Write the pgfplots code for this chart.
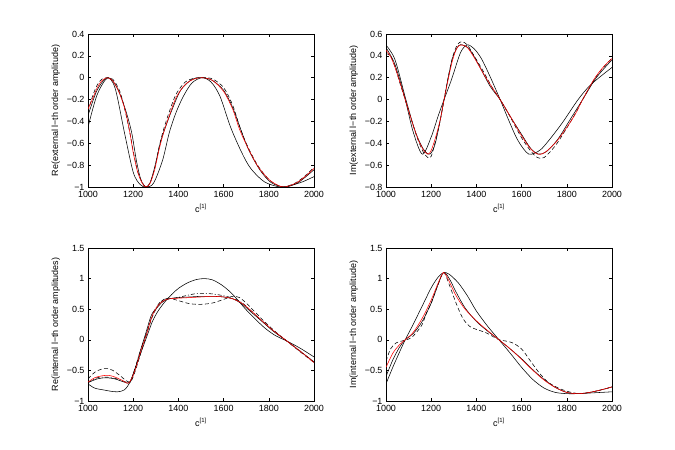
\documentclass[border=0pt]{standalone}
\usepackage{fontspec}
\setmainfont{Liberation Sans}
\usepackage{pgfplots}
\pgfplotsset{compat=1.18}
\definecolor{mred}{rgb}{1,0,0}
\pgfplotsset{
  panel/.style={
    scale only axis, width=226bp, height=153bp,
    xmin=1000, xmax=2000,
    xtick={1000,1200,1400,1600,1800,2000},
    xticklabels={1000,1200,1400,1600,1800,2000},
    tick align=inside,
    major tick length=3bp,
    axis line style={line width=0.5bp, black},
    every tick/.style={black, line width=0.5bp},
    tick label style={font=\fontsize{9}{10}\selectfont},
    xticklabel style={yshift=-0.5bp},
    label style={font=\fontsize{9}{10}\selectfont},
    xlabel={c\textsuperscript{[1]}},
    anchor=south west,
  },
  sol/.style={black, line width=0.55bp, smooth, mark=none},
  rd/.style={mred, line width=0.55bp, smooth, mark=none},
  dsh/.style={black, line width=0.55bp, smooth, mark=none, dash pattern=on 4bp off 2.5bp},
  dsd/.style={black, line width=0.55bp, smooth, mark=none, dash pattern=on 4bp off 2bp on 1bp off 2bp},
}
\begin{document}
\begin{tikzpicture}
\path[use as bounding box] (0bp,0bp) rectangle (675bp,450bp);

% ---------- top left: Re external
\begin{axis}[panel, at={(88bp,263bp)},
  ymin=-1, ymax=0.4,
  ytick={-1,-0.8,-0.6,-0.4,-0.2,0,0.2,0.4},
  yticklabels={−1,−0.8,−0.6,−0.4,−0.2,0,0.2,0.4},
  ylabel={Re(external l−th order amplitude)}]
\addplot[sol] coordinates {(1000,-0.346)(1040,-0.115)(1085,0)(1120,-0.096)(1161,-0.5)(1200,-0.864)(1230,-0.976)(1257,-1)(1290,-0.965)(1330,-0.755)(1360,-0.5)(1390,-0.316)(1422,-0.170)(1460,-0.048)(1505,0)(1545,-0.041)(1584,-0.170)(1631,-0.453)(1680,-0.684)(1720,-0.830)(1780,-0.952)(1850,-1)(1900,-0.984)(1950,-0.952)(2000,-0.905)};
\addplot[sol] coordinates {(1000,-0.453)(1040,-0.158)(1088,0)(1130,-0.096)(1165,-0.287)(1193,-0.5)(1215,-0.768)(1235,-0.938)(1257,-1)(1275,-0.959)(1295,-0.819)(1320,-0.594)(1340,-0.469)(1370,-0.302)(1410,-0.115)(1460,-0.016)(1505,0)(1550,-0.024)(1600,-0.115)(1640,-0.273)(1675,-0.469)(1710,-0.655)(1760,-0.842)(1810,-0.959)(1870,-1)(1930,-0.959)(2000,-0.842)};
\addplot[dsh] coordinates {(1000,-0.31)(1020,-0.17)(1040,-0.07)(1060,-0.015)(1085,0)(1110,-0.015)(1140,-0.12)(1165,-0.31)(1185,-0.5)(1200,-0.67)(1220,-0.86)(1240,-0.96)(1257,-1)(1275,-0.96)(1295,-0.83)(1315,-0.63)(1335,-0.47)(1360,-0.31)(1390,-0.15)(1430,-0.04)(1470,-0.005)(1505,0)(1550,-0.01)(1600,-0.09)(1640,-0.25)(1670,-0.44)(1700,-0.6)(1750,-0.8)(1800,-0.93)(1840,-0.985)(1870,-1)(1920,-0.96)(1960,-0.9)(2000,-0.82)};
\addplot[rd] coordinates {(1000,-0.287)(1020,-0.194)(1040,-0.096)(1060,-0.030)(1085,0)(1110,-0.030)(1140,-0.146)(1165,-0.302)(1185,-0.5)(1200,-0.684)(1220,-0.864)(1240,-0.965)(1257,-1)(1275,-0.965)(1295,-0.842)(1315,-0.654)(1335,-0.5)(1360,-0.346)(1390,-0.181)(1430,-0.062)(1470,-0.012)(1505,0)(1550,-0.024)(1600,-0.125)(1640,-0.287)(1670,-0.469)(1700,-0.609)(1750,-0.806)(1800,-0.930)(1840,-0.984)(1870,-1)(1920,-0.965)(1960,-0.905)(2000,-0.830)};
\end{axis}

% ---------- top right: Im external
\begin{axis}[panel, at={(386bp,263bp)},
  ymin=-0.8, ymax=0.6,
  ytick={-0.8,-0.6,-0.4,-0.2,0,0.2,0.4,0.6},
  yticklabels={−0.8,−0.6,−0.4,−0.2,0,0.2,0.4,0.6},
  ylabel={Im(external l−th order amplitude)}]
\addplot[sol] coordinates {(1000,0.476)(1040,0.319)(1085,0)(1120,-0.294)(1161,-0.5)(1200,-0.342)(1230,-0.155)(1257,0)(1290,0.184)(1330,0.431)(1360,0.5)(1390,0.465)(1422,0.375)(1460,0.213)(1505,0)(1545,-0.199)(1584,-0.375)(1631,-0.498)(1680,-0.465)(1720,-0.375)(1780,-0.213)(1850,0)(1900,0.124)(1950,0.213)(2000,0.294)};
\addplot[sol] coordinates {(1000,0.498)(1040,0.364)(1088,0)(1130,-0.294)(1165,-0.452)(1193,-0.5)(1215,-0.422)(1235,-0.241)(1257,0)(1275,0.199)(1295,0.385)(1320,0.491)(1340,0.499)(1370,0.459)(1410,0.319)(1460,0.124)(1505,0)(1550,-0.155)(1600,-0.319)(1640,-0.446)(1675,-0.499)(1710,-0.476)(1760,-0.364)(1810,-0.199)(1870,0)(1930,0.199)(2000,0.364)};
\addplot[dsh] coordinates {(1000,0.42)(1020,0.40)(1040,0.30)(1060,0.16)(1085,0)(1110,-0.17)(1140,-0.36)(1165,-0.48)(1185,-0.53)(1200,-0.52)(1220,-0.37)(1240,-0.19)(1257,0)(1275,0.2)(1295,0.39)(1315,0.5)(1335,0.53)(1360,0.5)(1390,0.40)(1430,0.26)(1470,0.11)(1505,0)(1550,-0.16)(1600,-0.35)(1640,-0.47)(1670,-0.53)(1700,-0.53)(1750,-0.42)(1800,-0.26)(1840,-0.12)(1870,0)(1920,0.18)(1960,0.29)(2000,0.38)};
\addplot[rd] coordinates {(1000,0.452)(1020,0.395)(1040,0.294)(1060,0.169)(1085,0)(1110,-0.169)(1140,-0.354)(1165,-0.459)(1185,-0.5)(1200,-0.465)(1220,-0.342)(1240,-0.184)(1257,0)(1275,0.184)(1295,0.364)(1315,0.476)(1335,0.5)(1360,0.476)(1390,0.385)(1430,0.241)(1470,0.109)(1505,0)(1550,-0.155)(1600,-0.331)(1640,-0.452)(1670,-0.499)(1700,-0.488)(1750,-0.395)(1800,-0.255)(1840,-0.124)(1870,0)(1920,0.184)(1960,0.294)(2000,0.375)};
\end{axis}

% ---------- bottom left: Re internal
\begin{axis}[panel, at={(88bp,49bp)},
  ymin=-1, ymax=1.5,
  ytick={-1,-0.5,0,0.5,1,1.5},
  yticklabels={−1,−0.5,0,0.5,1,1.5},
  ylabel={Re(internal l−th order amplitudes)}]
\addplot[sol] coordinates {(1000,-0.72)(1030,-0.79)(1070,-0.82)(1100,-0.84)(1130,-0.85)(1160,-0.82)(1185,-0.7)(1210,-0.45)(1235,-0.2)(1260,0.05)(1285,0.3)(1310,0.47)(1340,0.62)(1370,0.74)(1400,0.84)(1440,0.93)(1480,0.985)(1515,1.0)(1550,0.98)(1590,0.9)(1630,0.78)(1660,0.66)(1700,0.49)(1740,0.34)(1780,0.2)(1820,0.09)(1850,0.03)(1880,-0.02)(1940,-0.14)(2000,-0.28)};
\addplot[sol] coordinates {(1000,-0.7)(1040,-0.64)(1080,-0.62)(1120,-0.64)(1160,-0.69)(1185,-0.7)(1205,-0.52)(1230,-0.2)(1255,0.1)(1280,0.4)(1300,0.5)(1330,0.62)(1360,0.67)(1400,0.69)(1450,0.7)(1500,0.71)(1550,0.71)(1600,0.7)(1640,0.67)(1680,0.59)(1720,0.46)(1770,0.3)(1820,0.14)(1880,-0.02)(1940,-0.19)(2000,-0.36)};
\addplot[dsh] coordinates {(1000,-0.64)(1030,-0.53)(1060,-0.48)(1085,-0.47)(1110,-0.5)(1140,-0.58)(1170,-0.67)(1190,-0.68)(1210,-0.5)(1235,-0.2)(1260,0.1)(1285,0.38)(1310,0.56)(1335,0.66)(1360,0.68)(1400,0.64)(1450,0.59)(1500,0.58)(1550,0.6)(1600,0.66)(1640,0.71)(1670,0.69)(1700,0.6)(1740,0.45)(1780,0.3)(1830,0.13)(1880,-0.02)(1940,-0.2)(2000,-0.37)};
\addplot[dsd] coordinates {(1000,-0.7)(1040,-0.62)(1080,-0.61)(1120,-0.63)(1160,-0.68)(1185,-0.69)(1205,-0.5)(1230,-0.2)(1260,0.12)(1290,0.45)(1320,0.62)(1345,0.67)(1380,0.68)(1420,0.71)(1470,0.75)(1510,0.76)(1550,0.75)(1600,0.72)(1640,0.68)(1680,0.61)(1720,0.48)(1770,0.31)(1820,0.15)(1880,-0.02)(1940,-0.19)(2000,-0.37)};
\addplot[rd] coordinates {(1000,-0.69)(1030,-0.62)(1060,-0.59)(1090,-0.58)(1120,-0.61)(1150,-0.66)(1178,-0.71)(1195,-0.62)(1215,-0.42)(1235,-0.17)(1260,0.1)(1285,0.4)(1310,0.56)(1335,0.64)(1360,0.67)(1400,0.68)(1450,0.69)(1500,0.7)(1550,0.71)(1600,0.7)(1640,0.67)(1680,0.6)(1720,0.48)(1770,0.31)(1820,0.15)(1880,-0.02)(1940,-0.19)(2000,-0.37)};
\end{axis}

% ---------- bottom right: Im internal
\begin{axis}[panel, at={(386bp,49bp)},
  ymin=-1, ymax=1.5,
  ytick={-1,-0.5,0,0.5,1,1.5},
  yticklabels={−1,−0.5,0,0.5,1,1.5},
  ylabel={Im(internal l−th order amplitude)}]
\addplot[sol] coordinates {(1000,-0.72)(1030,-0.45)(1060,-0.2)(1085,0)(1120,0.25)(1160,0.55)(1200,0.85)(1230,1.02)(1255,1.1)(1280,1.07)(1320,0.93)(1360,0.72)(1400,0.47)(1450,0.22)(1500,0)(1550,-0.22)(1600,-0.45)(1650,-0.65)(1700,-0.79)(1750,-0.86)(1800,-0.88)(1850,-0.88)(1900,-0.87)(1950,-0.86)(2000,-0.85)};
\addplot[sol] coordinates {(1000,-0.6)(1030,-0.33)(1060,-0.12)(1085,0)(1120,0.1)(1160,0.3)(1200,0.6)(1230,0.9)(1255,1.1)(1280,1.0)(1310,0.78)(1350,0.52)(1400,0.3)(1450,0.14)(1500,0)(1550,-0.15)(1600,-0.31)(1650,-0.49)(1700,-0.65)(1750,-0.78)(1800,-0.86)(1850,-0.88)(1900,-0.86)(1950,-0.82)(2000,-0.77)};
\addplot[dsh] coordinates {(1000,-0.35)(1020,-0.15)(1045,-0.05)(1070,-0.02)(1090,0)(1110,0.03)(1130,0.1)(1160,0.25)(1180,0.45)(1200,0.6)(1230,0.9)(1255,1.1)(1280,0.9)(1310,0.6)(1340,0.35)(1370,0.22)(1400,0.17)(1440,0.12)(1470,0.06)(1500,0)(1530,-0.02)(1560,-0.05)(1600,-0.15)(1640,-0.35)(1680,-0.55)(1720,-0.7)(1770,-0.8)(1820,-0.86)(1860,-0.88)(1900,-0.86)(1950,-0.82)(2000,-0.77)};
\addplot[rd] coordinates {(1000,-0.45)(1030,-0.22)(1060,-0.08)(1085,0)(1120,0.12)(1160,0.35)(1200,0.65)(1230,0.92)(1255,1.1)(1280,0.95)(1310,0.72)(1350,0.5)(1400,0.31)(1450,0.15)(1500,0)(1550,-0.15)(1600,-0.32)(1650,-0.5)(1700,-0.66)(1750,-0.78)(1800,-0.86)(1850,-0.88)(1900,-0.86)(1950,-0.82)(2000,-0.77)};
\end{axis}
\end{tikzpicture}
\end{document}
